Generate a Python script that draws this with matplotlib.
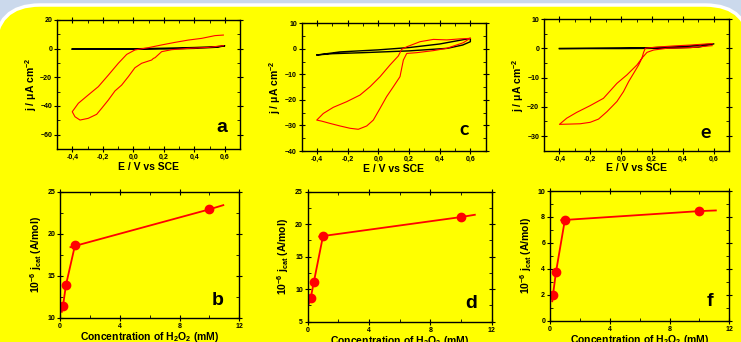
import matplotlib
matplotlib.use('Agg')
import matplotlib.pyplot as plt
import numpy as np
from matplotlib.patches import FancyBboxPatch
from matplotlib.ticker import MultipleLocator, FuncFormatter

plt.rcParams['font.family'] = ['Liberation Sans', 'DejaVu Sans']
plt.rcParams['font.weight'] = 'bold'
plt.rcParams['mathtext.fontset'] = 'custom'
plt.rcParams['mathtext.rm'] = 'Liberation Sans:bold'
plt.rcParams['mathtext.it'] = 'Liberation Sans:bold'
plt.rcParams['mathtext.bf'] = 'Liberation Sans:bold'

# --- cyclic voltammograms (E in V, j in uA cm-2) ---
# panel a
a_red_x = [0.591, 0.536, 0.449, 0.361, 0.274, 0.186, 0.099, 0.011, -0.043, -0.098, -0.163, -0.229,
           -0.295, -0.360, -0.400, -0.382, -0.349, -0.295, -0.240, -0.207, -0.163, -0.120, -0.076,
           -0.032, 0.011, 0.055, 0.121, 0.132, 0.143, 0.186, 0.252, 0.361, 0.492, 0.591]
a_red_y = [9.5, 9.1, 7.2, 6.0, 4.4, 2.6, 0.7, -0.9, -4.0, -10.2, -18.4, -26.5,
           -32.3, -38.1, -44.0, -47.5, -49.8, -48.6, -45.8, -41.6, -35.8, -29.5, -25.4,
           -19.5, -13.3, -10.2, -7.9, -6.8, -6.3, -2.1, -0.7, 0.2, 0.9, 2.1]
a_blk_x = [-0.40, 0.0, 0.2, 0.4, 0.55, 0.60, 0.55, 0.40, 0.20, 0.0, -0.40]
a_blk_y = [-0.3, -0.1, 0.3, 0.8, 1.4, 2.0, 1.0, 0.2, -0.2, -0.3, -0.3]

# panel c
c_red_x = [0.598, 0.533, 0.446, 0.359, 0.272, 0.185, 0.152, 0.130, 0.076, 0.011, -0.054, -0.120,
           -0.207, -0.294, -0.359, -0.402, -0.370, -0.315, -0.250, -0.185, -0.131, -0.076, -0.033,
           0.011, 0.054, 0.098, 0.130, 0.141, 0.163, 0.185, 0.250, 0.359, 0.446, 0.554, 0.598]
c_red_y = [4.1, 3.9, 3.5, 3.7, 2.8, 0.8, -0.2, -2.8, -6.3, -10.9, -14.8, -18.1,
           -20.7, -22.9, -25.3, -27.9, -28.3, -29.2, -30.2, -31.1, -31.5, -30.2, -27.9,
           -23.3, -18.7, -14.8, -11.9, -10.9, -4.4, -1.8, -1.5, -0.7, 0.2, 2.4, 4.1]
c_blk_x = [-0.40, -0.25, 0.0, 0.2, 0.4, 0.6, 0.6, 0.55, 0.45, 0.2, -0.1, -0.3, -0.40]
c_blk_y = [-2.4, -1.2, -0.4, 0.5, 1.9, 4.1, 2.8, 1.5, 0.2, -0.8, -1.5, -1.9, -2.4]

# panel e
e_red_x = [0.589, 0.448, 0.340, 0.232, 0.156, 0.145, 0.134, 0.102, 0.037, -0.028, -0.115, -0.201,
           -0.288, -0.353, -0.400, -0.331, -0.266, -0.201, -0.147, -0.093, -0.028, 0.015, 0.048,
           0.080, 0.113, 0.134, 0.167, 0.210, 0.297, 0.448, 0.589]
e_red_y = [1.6, 1.1, 0.8, 0.4, 0.0, -1.4, -3.4, -5.7, -9.1, -12.0, -17.1, -19.6,
           -21.9, -23.9, -26.0, -25.9, -25.8, -25.3, -24.2, -21.7, -18.2, -14.8, -11.4,
           -8.6, -5.7, -3.4, -1.4, -0.6, 0.0, 0.2, 0.9]
e_blk_x = [-0.40, 0.2, 0.4, 0.6, 0.5, 0.3, 0.0, -0.40]
e_blk_y = [-0.1, 0.2, 0.6, 1.5, 0.4, 0.0, -0.1, -0.1]

# --- calibration plots (conc in mM, 1e-6 jcat in A/mol) ---
conc = [0.2, 0.4, 1.0, 10.0]
jcat_b = [11.4, 13.9, 18.6, 22.9]
jcat_d = [8.7, 11.1, 18.2, 21.1]
jcat_f = [2.0, 3.75, 7.8, 8.45]
low_b = ([0.12, 0.2, 0.4, 1.0], [10.7, 11.4, 13.9, 18.6])
high_b = ([0.7, 10.0, 10.93], [18.4, 22.9, 23.4])
low_d = ([0.05, 0.2, 0.4, 1.0], [7.6, 8.7, 11.1, 18.2])
high_d = ([0.75, 10.0, 10.9], [18.1, 21.1, 21.45])
low_f = ([0.15, 0.2, 0.4, 1.0], [1.5, 2.0, 3.75, 7.8])
high_f = ([0.75, 10.0, 11.1], [7.75, 8.45, 8.5])

W, H = 741, 342
fig = plt.figure(figsize=(W / 100, H / 100), dpi=100)
fig.patch.set_facecolor('#cbd9ec')
bg = FancyBboxPatch((-5 / 100, -80 / 100), 755 / 100, 417 / 100,
                    boxstyle='round,pad=0,rounding_size=0.45',
                    transform=fig.dpi_scale_trans, facecolor='#ffff00',
                    edgecolor='white', linewidth=2.5, zorder=-10)
fig.patches.append(bg)

yellow = '#ffff00'
comma = FuncFormatter(lambda v, p: ('%.1f' % v).replace('.', ','))


def box(l, r, t, b):
    return [l / W, (H - b) / H, (r - l) / W, (b - t) / H]


def style(ax):
    ax.set_facecolor(yellow)
    for s in ax.spines.values():
        s.set_linewidth(1.0)
    ax.tick_params(which='major', direction='inout', length=4, width=0.8,
                   labelsize=5, top=True, right=True, pad=1.5)
    ax.tick_params(which='minor', direction='in', length=2, width=0.6, top=True, right=True)


def cv_panel(pos, rx, ry, bx, by, ylim, letter, lfont, lpos):
    ax = fig.add_axes(pos)
    style(ax)
    ax.plot(bx, by, color='black', lw=1.0)
    ax.plot(rx, ry, color='red', lw=0.8)
    ax.set_xlim(-0.5, 0.7)
    ax.set_ylim(*ylim)
    ax.xaxis.set_major_locator(MultipleLocator(0.2))
    ax.xaxis.set_minor_locator(MultipleLocator(0.1))
    ax.xaxis.set_major_formatter(comma)
    ax.yaxis.set_major_locator(MultipleLocator(20 if ylim[0] == -70 else 10))
    ax.yaxis.set_minor_locator(MultipleLocator(10 if ylim[0] == -70 else 5))
    ax.set_xlabel('E / V vs SCE', fontsize=7.5, fontweight='bold', labelpad=0.5)
    ax.set_ylabel(r'j / $\mathregular{\mu}$A cm$^{-2}$', fontsize=7.5, fontweight='bold', labelpad=1)
    ax.text(lpos[0], lpos[1], letter, transform=ax.transAxes, fontsize=14,
            ha='center', va='center', **lfont)
    for lab in ax.get_xticklabels() + ax.get_yticklabels():
        lab.set_fontweight('bold')
    return ax


def cal_panel(pos, jc, low, high, ylim, ymaj, ymin, letter, lpos):
    ax = fig.add_axes(pos)
    style(ax)
    ax.plot(low[0], low[1], color='red', lw=1.3)
    ax.plot(high[0], high[1], color='red', lw=1.3)
    ax.plot(conc, jc, 'o', color='red', ms=6)
    ax.set_xlim(0, 12)
    ax.set_ylim(*ylim)
    ax.xaxis.set_major_locator(MultipleLocator(4))
    ax.xaxis.set_minor_locator(MultipleLocator(2))
    ax.yaxis.set_major_locator(MultipleLocator(ymaj))
    ax.yaxis.set_minor_locator(MultipleLocator(ymin))
    ax.set_xlabel(r'Concentration of H$_2$O$_2$ (mM)', fontsize=7.5, fontweight='bold', labelpad=0)
    ax.set_ylabel(r'10$^{-6}$ j$_{cat}$ (A/mol)', fontsize=7.5, fontweight='bold', labelpad=2.5)
    ax.text(lpos[0], lpos[1], letter, transform=ax.transAxes, fontsize=14,
            fontweight='bold', ha='center', va='center')
    for lab in ax.get_xticklabels() + ax.get_yticklabels():
        lab.set_fontweight('bold')
    return ax


bold_arial = dict(fontweight='bold')
calib = dict(family=['Lato', 'DejaVu Sans'], fontweight='bold')

cv_panel(box(57, 240, 20, 149), a_red_x, a_red_y, a_blk_x, a_blk_y, (-70, 20), 'a', bold_arial, (0.90, 0.17))
cv_panel(box(301.7, 485.7, 23.3, 151), c_red_x, c_red_y, c_blk_x, c_blk_y, (-40, 10), 'c', calib, (0.88, 0.165))
cv_panel(box(544, 729.3, 19, 150.7), e_red_x, e_red_y, e_blk_x, e_blk_y, (-35, 10), 'e', calib, (0.87, 0.135))

cal_panel(box(60, 239.3, 191.7, 317.7), jcat_b, low_b, high_b, (10, 25), 5, 2.5, 'b', (0.88, 0.14))
cal_panel(box(307.7, 491.7, 191.7, 321.7), jcat_d, low_d, high_d, (5, 25), 5, 2.5, 'd', (0.89, 0.14))
cal_panel(box(550, 729.3, 191, 320.7), jcat_f, low_f, high_f, (0, 10), 2, 1, 'f', (0.89, 0.145))

fig.savefig('out.png', dpi=100, facecolor=fig.get_facecolor())
